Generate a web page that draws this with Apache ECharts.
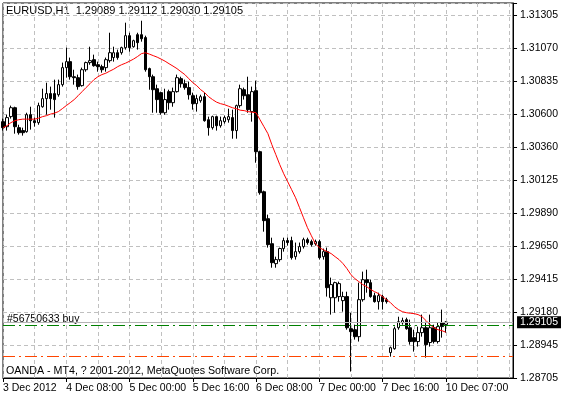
<!DOCTYPE html>
<html>
<head>
<meta charset="utf-8">
<script src="https://cdn.jsdelivr.net/npm/echarts@6/dist/echarts.min.js"></script>
<style>
html, body { margin: 0; padding: 0; background: #fff; }
#main { width: 561px; height: 398px; }
</style>
</head>
<body>
<div id="main"></div>
<script>
// EURUSD H1 bars, 3 Dec 16:00 .. 10 Dec 07:00
const opens = [1.30541,1.30505,1.30577,1.30641,1.30498,1.30477,1.30469,1.30591,1.30548,1.30534,
1.30648,1.30706,1.30742,1.30742,1.30734,1.30806,1.30928,1.30971,1.30863,1.30856,
1.30799,1.30913,1.30964,1.30985,1.30949,1.30935,1.30928,1.30978,1.31000,1.31035,
1.31035,1.31071,1.31157,1.31078,1.31164,1.31164,1.31143,1.30921,1.30863,1.30777,
1.30749,1.30605,1.30756,1.30677,1.30756,1.30849,1.30813,1.30785,1.30727,1.30670,
1.30691,1.30720,1.30555,1.30498,1.30577,1.30512,1.30541,1.30555,1.30570,1.30477,
1.30656,1.30770,1.30734,1.30613,1.30763,1.30326,1.30039,1.29846,1.29667,1.29524,
1.29553,1.29632,1.29689,1.29689,1.29574,1.29610,1.29646,1.29696,1.29682,1.29667,
1.29682,1.29574,1.29610,1.29280,1.29280,1.29288,1.29259,1.29288,1.29058,1.29051,
1.29001,1.29266,1.29409,1.29388,1.29295,1.29252,1.29288,1.29266,1.28887,1.28915,
1.29065,1.29101,1.29123,1.29065,1.28994,1.28966,1.29030,1.29065,1.28959,1.29065,
1.28966,1.29101,1.29089];
const closes = [1.30498,1.30570,1.30641,1.30505,1.30462,1.30462,1.30591,1.30548,1.30534,1.30656,
1.30706,1.30742,1.30706,1.30699,1.30806,1.30928,1.30971,1.30863,1.30856,1.30792,
1.30913,1.30964,1.30978,1.30942,1.30935,1.30913,1.30985,1.31035,1.31035,1.31000,
1.31071,1.31157,1.31071,1.31121,1.31107,1.31135,1.30913,1.30863,1.30770,1.30699,
1.30605,1.30699,1.30677,1.30756,1.30856,1.30813,1.30785,1.30734,1.30670,1.30706,
1.30720,1.30548,1.30498,1.30577,1.30512,1.30548,1.30570,1.30577,1.30477,1.30656,
1.30777,1.30727,1.30627,1.30756,1.30326,1.30032,1.29832,1.29660,1.29531,1.29553,
1.29632,1.29689,1.29675,1.29567,1.29610,1.29646,1.29696,1.29675,1.29660,1.29682,
1.29567,1.29610,1.29352,1.29374,1.29388,1.29381,1.29288,1.29065,1.29037,1.29001,
1.29266,1.29409,1.29388,1.29288,1.29252,1.29295,1.29252,1.29252,1.28922,1.29058,
1.29108,1.29116,1.29058,1.28966,1.28966,1.29030,1.29065,1.28944,1.29065,1.28966,
1.29073,1.29073,1.29105];
const lows = [1.30477,1.30477,1.30563,1.30455,1.30448,1.30441,1.30462,1.30484,1.30505,1.30519,
1.30641,1.30591,1.30627,1.30570,1.30720,1.30792,1.30856,1.30842,1.30806,1.30770,
1.30792,1.30899,1.30949,1.30935,1.30899,1.30892,1.30899,1.30964,1.30971,1.30985,
1.31021,1.31057,1.31042,1.31071,1.31057,1.31114,1.30899,1.30770,1.30605,1.30605,
1.30591,1.30591,1.30627,1.30648,1.30749,1.30785,1.30770,1.30699,1.30627,1.30613,
1.30677,1.30541,1.30441,1.30484,1.30477,1.30498,1.30527,1.30534,1.30419,1.30419,
1.30641,1.30699,1.30605,1.30541,1.30247,1.30018,1.29753,1.29639,1.29495,1.29495,
1.29538,1.29610,1.29653,1.29553,1.29553,1.29596,1.29632,1.29660,1.29646,1.29653,
1.29553,1.29553,1.29288,1.29159,1.29173,1.29252,1.29180,1.29051,1.28751,1.28980,
1.28966,1.29252,1.29316,1.29280,1.29245,1.29195,1.29195,1.29238,1.28858,1.28908,
1.29051,1.29087,1.29051,1.28944,1.28894,1.28930,1.29001,1.28851,1.28930,1.28952,
1.28952,1.28994,1.29030];
const highs = [1.30563,1.30591,1.30656,1.30648,1.30519,1.30498,1.30605,1.30648,1.30570,1.30677,
1.30777,1.30820,1.30792,1.30842,1.30842,1.30964,1.31071,1.31000,1.30913,1.30878,
1.30928,1.30971,1.31078,1.31021,1.30971,1.30949,1.31000,1.31178,1.31078,1.31057,
1.31078,1.31250,1.31178,1.31128,1.31178,1.31264,1.31157,1.30928,1.30878,1.30806,
1.30756,1.30777,1.30770,1.30785,1.30878,1.30863,1.30842,1.30827,1.30749,1.30734,
1.30734,1.30749,1.30577,1.30584,1.30584,1.30577,1.30584,1.30634,1.30627,1.30663,
1.30806,1.30785,1.30863,1.30792,1.30835,1.30333,1.30047,1.29875,1.29710,1.29574,
1.29639,1.29710,1.29710,1.29717,1.29675,1.29675,1.29710,1.29710,1.29696,1.29696,
1.29696,1.29632,1.29639,1.29424,1.29395,1.29395,1.29323,1.29323,1.29173,1.29087,
1.29388,1.29467,1.29481,1.29409,1.29316,1.29316,1.29302,1.29280,1.28930,1.29073,
1.29144,1.29137,1.29137,1.29123,1.29051,1.29073,1.29159,1.29108,1.29159,1.29087,
1.29101,1.29195,1.29112];
// red moving average as drawn on the chart
const maLine = [1.30498,1.30512,1.30534,1.30548,1.30555,1.30559,1.30559,1.30559,1.30559,1.30566,
1.30577,1.30584,1.30595,1.30602,1.30613,1.30634,1.30656,1.30677,1.30699,1.30727,
1.30756,1.30785,1.30813,1.30842,1.30863,1.30878,1.30888,1.30903,1.30917,1.30935,
1.30949,1.30960,1.30974,1.30989,1.31007,1.31028,1.31035,1.31025,1.31014,1.31003,
1.30989,1.30974,1.30956,1.30939,1.30921,1.30899,1.30878,1.30849,1.30820,1.30799,
1.30770,1.30749,1.30720,1.30699,1.30681,1.30670,1.30663,1.30652,1.30641,1.30634,
1.30623,1.30620,1.30613,1.30609,1.30605,1.30555,1.30505,1.30455,1.30376,1.30305,
1.30233,1.30168,1.30111,1.30054,1.29996,1.29925,1.29853,1.29782,1.29724,1.29667,
1.29639,1.29624,1.29610,1.29596,1.29574,1.29553,1.29524,1.29488,1.29445,1.29417,
1.29395,1.29374,1.29359,1.29338,1.29323,1.29309,1.29288,1.29266,1.29245,1.29216,
1.29195,1.29180,1.29173,1.29169,1.29166,1.29159,1.29144,1.29116,1.29087,1.29065,
1.29051,1.29044,1.29033];

const xLabels = ['3 Dec 2012', '4 Dec 08:00', '5 Dec 00:00', '5 Dec 16:00', '6 Dec 08:00', '7 Dec 00:00', '7 Dec 16:00', '10 Dec 07:00'];
const yLabels = ['1.28705', '1.28945', '1.29180', '1.29415', '1.29650', '1.29890', '1.30125', '1.30360', '1.30600', '1.30835', '1.31070', '1.31305'];

const bidPrice = 1.29105;
const orderPrice = 1.29085;
const stopPrice = 1.28858;

// hourly slots, the chart keeps empty room on the right
const categories = [];
for (let i = 0; i < 130; i++) {
  const t = i <= 96 ? Date.UTC(2012, 11, 3, 16) + i * 3600e3 : Date.UTC(2012, 11, 10, 7) + (i - 112) * 3600e3;
  const d = new Date(t);
  categories.push(d.getUTCDate() + ' Dec ' + String(d.getUTCHours()).padStart(2, '0') + ':00');
}

const candles = opens.map((o, i) => [o, closes[i], lows[i], highs[i]]);

const FONT = '"Liberation Sans Narrow", "Arial Narrow", sans-serif';
const yMin = 1.28705;
const yStep = 0.026 / 11;
const yMax = yMin + yStep * 375 / 33;
const showX = (i) => i % 16 === 0 && i <= 112;
const first = categories[0];
const last = categories[categories.length - 1];

// horizontal price level from left edge to right edge
function level(price, color, type, label) {
  return [
    { xAxis: first, yAxis: price, lineStyle: { color: color, type: type, width: 1 }, label: label || { show: false } },
    { xAxis: last, yAxis: price }
  ];
}

const option = {
  animation: false,
  backgroundColor: '#fff',
  grid: { left: 3, right: 42, top: 3, bottom: 20, show: true, borderColor: '#000', borderWidth: 1 },
  xAxis: {
    type: 'category',
    data: categories,
    boundaryGap: false,
    axisLine: { lineStyle: { color: '#000' } },
    axisTick: { interval: showX, length: 4, lineStyle: { color: '#000' } },
    axisLabel: {
      interval: showX,
      formatter: (v, i) => xLabels[i / 16],
      align: 'left',
      margin: 5,
      color: '#000',
      fontFamily: FONT,
      fontSize: 10.5
    },
    splitLine: { show: true, interval: (i) => i % 8 === 0, lineStyle: { color: '#c0c0c0', type: [4, 3] } }
  },
  yAxis: {
    type: 'value',
    position: 'right',
    min: yMin,
    max: yMax,
    interval: yStep,
    axisLine: { show: true, lineStyle: { color: '#000' } },
    axisTick: { show: true, length: 4, lineStyle: { color: '#000' } },
    axisLabel: {
      formatter: (v) => {
        const k = (v - yMin) / yStep;
        return Math.abs(k - Math.round(k)) < 0.01 ? (yLabels[Math.round(k)] || '') : '';
      },
      margin: 7,
      color: '#000',
      fontFamily: FONT,
      fontSize: 10.5
    },
    splitLine: { lineStyle: { color: '#c0c0c0', type: [4, 3] } }
  },
  series: [
    {
      type: 'candlestick',
      data: candles,
      barWidth: 3,
      itemStyle: { color: '#fff', color0: '#000', borderColor: '#000', borderColor0: '#000', borderWidth: 1 }
    },
    {
      type: 'line',
      data: maLine,
      showSymbol: false,
      lineStyle: { color: '#ff0000', width: 1 },
      markLine: {
        silent: true,
        symbol: ['none', 'none'],
        data: [
          level(stopPrice, '#ff4500', [12, 4, 2, 4]),
          level(orderPrice, '#008000', [12, 4, 2, 4]),
          level(bidPrice, '#b4b4b4', 'solid', {
            show: true, position: 'end', formatter: '1.29105', distance: 4,
            color: '#fff', backgroundColor: '#000', padding: [1, 3, 1, 3],
            fontFamily: FONT, fontSize: 10.5, lineHeight: 10
          })
        ]
      }
    }
  ],
  graphic: [
    { type: 'text', left: 6, top: 5, style: { text: 'EURUSD,H1  1.29089 1.29112 1.29030 1.29105', font: '11px ' + FONT, fill: '#000' } },
    { type: 'text', left: 7, top: 314, style: { text: '#56750633 buy', font: '10.5px ' + FONT, fill: '#000' } },
    { type: 'text', left: 6, top: 366, style: { text: 'OANDA - MT4, ? 2001-2012, MetaQuotes Software Corp.', font: '10.7px ' + FONT, fill: '#000' } }
  ]
};

const myChart = echarts.init(document.getElementById('main'));
myChart.setOption(option);
</script>
</body>
</html>
